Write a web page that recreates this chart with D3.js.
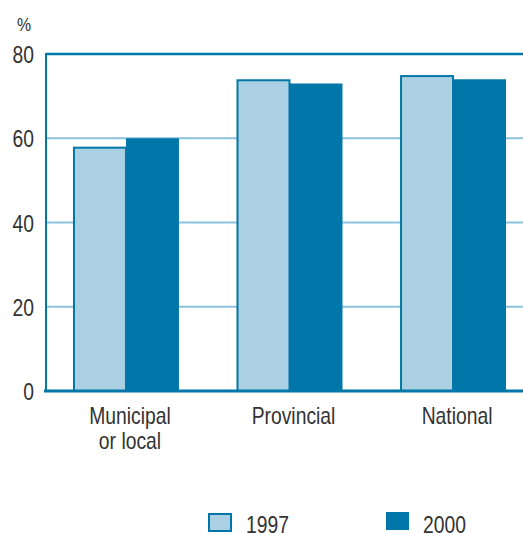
<!DOCTYPE html>
<html>
<head>
<meta charset="utf-8">
<script src="https://cdn.jsdelivr.net/npm/d3@7"></script>
<style>
  html, body { margin: 0; padding: 0; background: #fff; }
  svg { display: block; }
  text { font-family: "Liberation Sans", Arial, sans-serif; fill: #333; }
</style>
</head>
<body>
<svg id="chart" width="523" height="533"></svg>
<script>
// Share of respondents (%) by level of government, 1997 vs 2000
const categories = ["Municipal|or local", "Provincial", "National"];
const series = ["1997", "2000"];
const values1997 = [58, 74, 75];
const values2000 = [60, 73, 74];
const yTicks = [0, 20, 40, 60, 80];

const light = "#abd0e3";
const dark = "#0077a8";
const grid = "#8cc2dd";

const svg = d3.select("#chart");
const W = 523;
const plotLeft = 46, plotTop = 54, plotBottom = 391, plotRight = 533;
const squeeze = 0.84; // condensed lettering

// text placed at (tx, ty) and narrowed horizontally
function label(parent, tx, ty, str, size, anchor) {
  return parent.append("text")
    .attr("transform", `translate(${tx},${ty}) scale(${squeeze},1)`)
    .attr("text-anchor", anchor || "start")
    .attr("font-size", size)
    .text(str);
}

const x = d3.scaleBand().domain(categories).range([plotLeft, plotRight]).paddingInner(0.352).paddingOuter(0.165);
const xs = d3.scaleBand().domain(series).range([0, x.bandwidth()]);
const y = d3.scaleLinear().domain([0, 80]).range([plotBottom, plotTop]);

// gridlines
svg.append("g").selectAll("line")
  .data(yTicks.filter(t => t > 0 && t < 80))
  .join("line")
  .attr("x1", plotLeft).attr("x2", W)
  .attr("y1", d => y(d)).attr("y2", d => y(d))
  .attr("stroke", grid).attr("stroke-width", 2);

// frame: top and left edges
svg.append("line").attr("x1", plotLeft).attr("x2", W).attr("y1", y(80)).attr("y2", y(80))
  .attr("stroke", dark).attr("stroke-width", 2.5);
svg.append("line").attr("x1", plotLeft).attr("x2", plotLeft).attr("y1", y(80) - 1).attr("y2", plotBottom)
  .attr("stroke", dark).attr("stroke-width", 2);

// bars
const rows = categories.map((c, i) => ({ c, v: [values1997[i], values2000[i]] }));
const g = svg.append("g").selectAll("g").data(rows).join("g")
  .attr("transform", d => `translate(${x(d.c)},0)`);

g.each(function (d) {
  const sel = d3.select(this);
  // 1997: light fill with dark outline
  sel.append("rect")
    .attr("x", xs("1997") + 1).attr("width", xs.bandwidth() - 1)
    .attr("y", y(d.v[0]) + 1).attr("height", plotBottom - y(d.v[0]) - 1)
    .attr("fill", light).attr("stroke", dark).attr("stroke-width", 2);
  // 2000: solid dark
  sel.append("rect")
    .attr("x", xs("2000")).attr("width", xs.bandwidth())
    .attr("y", y(d.v[1])).attr("height", plotBottom - y(d.v[1]))
    .attr("fill", dark);
});

// baseline
svg.append("line").attr("x1", plotLeft - 2).attr("x2", W).attr("y1", plotBottom).attr("y2", plotBottom)
  .attr("stroke", dark).attr("stroke-width", 3);

// y tick labels
const yl = svg.append("g");
yTicks.forEach(t => label(yl, 34, y(t) + 9, t, 23, "end"));
label(svg, 24, 31, "%", 19, "middle");

// category labels
const cl = svg.append("g");
categories.forEach(c => {
  const cx = x(c) + x.bandwidth() / 2 + 4;
  c.split("|").forEach((line, i) => label(cl, cx, 424 + i * 25, line, 23, "middle"));
});

// legend
const legend = [
  { label: "1997", fill: light, stroke: dark, x: 209, y: 514, w: 22, h: 17 },
  { label: "2000", fill: dark, stroke: "none", x: 386, y: 512, w: 23, h: 18 }
];
const lg = svg.append("g");
legend.forEach(d => {
  lg.append("rect").attr("x", d.x).attr("y", d.y).attr("width", d.w).attr("height", d.h)
    .attr("fill", d.fill).attr("stroke", d.stroke).attr("stroke-width", 2);
  label(lg, d.x + 37, 533, d.label, 23, "start");
});
</script>
</body>
</html>
